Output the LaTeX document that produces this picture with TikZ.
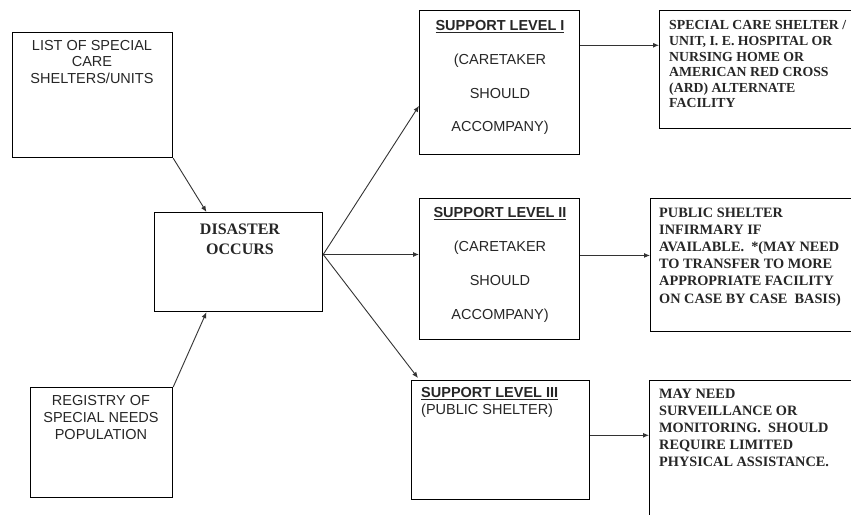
\documentclass[tikz,border=0pt]{standalone}
\usepackage{fontspec}
\setmainfont{Liberation Serif}
\setsansfont{Liberation Sans}
\usetikzlibrary{arrows.meta,calc}
\begin{document}
\begin{tikzpicture}[x=1pt,y=-1pt,
  box/.style={draw=black,line width=1.2pt,rectangle,inner sep=0pt,anchor=north west},
  conn/.style={draw=black!80,line width=0.9pt,-{Latex[length=6pt,width=5pt]}},
  sans/.style={inner sep=0pt,font=\sffamily\fontsize{14.5}{16.5}\selectfont,text=black!85},
  serb/.style={inner sep=0pt,font=\rmfamily\bfseries\fontsize{14.3}{17.2}\selectfont,text=black!85,align=left,anchor=north west}]
\useasboundingbox (0,0) rectangle (851,514);
\clip (0,0) rectangle (851,514);
% boxes
\node[box,minimum width=160pt,minimum height=125pt] (list) at (12,32) {};
\node[box,minimum width=142pt,minimum height=110pt] (reg) at (30,387) {};
\node[box,minimum width=168pt,minimum height=99pt] (dis) at (154,212) {};
\node[box,minimum width=160pt,minimum height=144pt] (sl1) at (419,10) {};
\node[box,minimum width=160pt,minimum height=141pt] (sl2) at (419,198) {};
\node[box,minimum width=178pt,minimum height=119pt] (sl3) at (411,380) {};
\node[box,minimum width=220pt,minimum height=118pt] (r1) at (659,10) {};
\node[box,minimum width=230pt,minimum height=133pt] (r2) at (650,198) {};
\node[box,minimum width=230pt,minimum height=200pt] (r3) at (649,380) {};
% texts
\node[sans,align=center,anchor=north] (tlist) at (92,40) {LIST OF SPECIAL\\CARE\\SHELTERS/UNITS};
\node[sans,align=center,anchor=north,font=\sffamily\fontsize{14.5}{17}\selectfont] (treg) at (101,395) {REGISTRY OF\\SPECIAL NEEDS\\POPULATION};
\node[inner sep=0pt,align=center,anchor=north,font=\rmfamily\bfseries\fontsize{16}{20}\selectfont,text=black!85] (tdis) at (240,223.5) {DISASTER\\OCCURS};
\node[sans,align=center,anchor=north,font=\sffamily\fontsize{14.5}{33.7}\selectfont] (tsl1) at (500,20.5) {\underline{\textbf{SUPPORT LEVEL I}}\\(CARETAKER\\SHOULD\\ACCOMPANY)};
\node[sans,align=center,anchor=north,font=\sffamily\fontsize{14.5}{34}\selectfont] (tsl2) at (500,207.5) {\underline{\textbf{SUPPORT LEVEL II}}\\(CARETAKER\\SHOULD\\ACCOMPANY)};
\node[sans,align=left,anchor=north west,font=\sffamily\fontsize{14.5}{17}\selectfont] (tsl3) at (421,387.5) {\underline{\textbf{SUPPORT LEVEL III}}\\(PUBLIC SHELTER)};
\node[serb,font=\rmfamily\bfseries\fontsize{13.8}{15.6}\selectfont] (tr1) at (669,20.5) {SPECIAL CARE SHELTER /\\UNIT, I. E. HOSPITAL OR\\NURSING HOME OR\\AMERICAN RED CROSS\\(ARD) ALTERNATE\\FACILITY};
\node[serb] (tr2) at (659,207.5) {PUBLIC SHELTER\\INFIRMARY IF\\AVAILABLE.\ \ *(MAY NEED\\TO TRANSFER TO MORE\\APPROPRIATE FACILITY\\ON CASE BY CASE\ \ BASIS)};
\node[serb,font=\rmfamily\bfseries\fontsize{14.3}{17}\selectfont] (tr3) at (659,388.5) {MAY NEED\\SURVEILLANCE OR\\MONITORING.\ \ SHOULD\\REQUIRE LIMITED\\PHYSICAL ASSISTANCE.};
% connector anchor points
\coordinate (dsrc) at ($(dis.north east)!0.424!(dis.south east)$);
\coordinate (s1in) at ($(sl1.north west)!0.66!(sl1.south west)$);
\coordinate (s3in) at ($(sl3.north west)+(7,-2)$);
\coordinate (dtop) at ($(dis.north west)!0.31!(dis.north east)$);
\coordinate (dbot) at ($(dis.south west)!0.31!(dis.south east)$);
\coordinate (s1out) at ($(sl1.north east)!0.243!(sl1.south east)$);
\coordinate (s2out) at ($(sl2.north east)!0.404!(sl2.south east)$);
\coordinate (s3out) at ($(sl3.north east)!0.46!(sl3.south east)$);
% connectors
\draw[conn] (list.south east) -- (dtop);
\draw[conn] (reg.north east) -- (dbot);
\draw[conn] (dsrc) -- (s1in);
\draw[conn] (dsrc) -- (dsrc -| sl2.west);
\draw[conn] (dsrc) -- (s3in);
\draw[conn] (s1out) -- (s1out -| r1.west);
\draw[conn] (s2out) -- (s2out -| r2.west);
\draw[conn] (s3out) -- (s3out -| r3.west);
\end{tikzpicture}
\end{document}
